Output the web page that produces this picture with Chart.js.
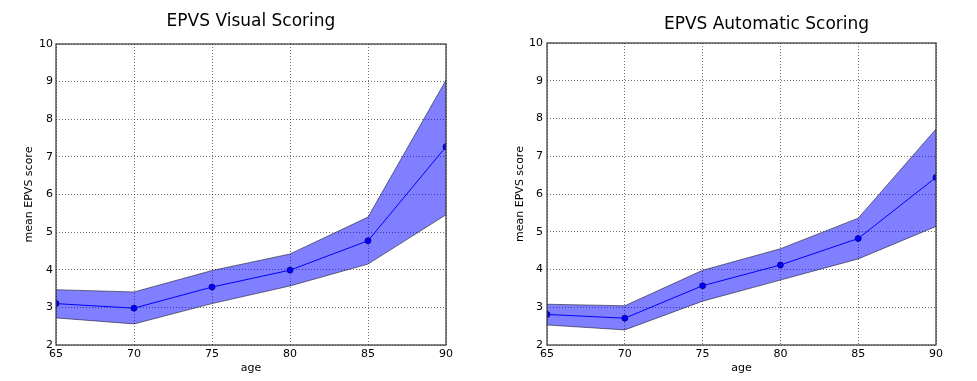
<!DOCTYPE html>
<html><head><meta charset="utf-8">
<script src="https://cdn.jsdelivr.net/npm/chart.js@4/dist/chart.umd.min.js"></script>
<style>
html,body{margin:0;padding:0;background:#fff;overflow:hidden}
#wrap{position:relative;width:977px;height:381px;background:#fff}
.p{position:absolute;top:0;height:381px}
</style></head><body>
<div id="wrap">
<div class="p" style="left:0;width:488px"><canvas id="c1" width="488" height="381"></canvas></div>
<div class="p" style="left:488px;width:489px"><canvas id="c2" width="489" height="381"></canvas></div>
</div>
<script>
// ---- data ----
const ages = [65, 70, 75, 80, 85, 90];
const visualMean  = [3.10, 2.98, 3.54, 3.99, 4.77, 7.27];
const visualUpper = [3.47, 3.41, 3.98, 4.42, 5.40, 9.04];
const visualLower = [2.72, 2.56, 3.10, 3.57, 4.15, 5.46];
const autoMean  = [2.81, 2.71, 3.57, 4.12, 4.82, 6.44];
const autoUpper = [3.08, 3.04, 3.98, 4.55, 5.36, 7.72];
const autoLower = [2.53, 2.40, 3.16, 3.72, 4.28, 5.14];
const yTicks = [2, 3, 4, 5, 6, 7, 8, 9, 10];
const xTicks = [65, 70, 75, 80, 85, 90];
const titles = ['EPVS Visual Scoring', 'EPVS Automatic Scoring'];
const xLabel = 'age';
const yLabel = 'mean EPVS score';

const FONT = '"DejaVu Sans", sans-serif';

const panelTitle = {
  id: 'panelTitle',
  afterDraw(chart, args, opts) {
    const {ctx, chartArea} = chart;
    ctx.save();
    ctx.font = opts.size + 'px ' + FONT;
    ctx.fillStyle = '#000';
    ctx.textAlign = 'center';
    ctx.textBaseline = 'alphabetic';
    ctx.fillText(opts.text, (chartArea.left + chartArea.right) / 2 + opts.dx, opts.baseline);
    ctx.restore();
  }
};
const frame = {
  id: 'frame',
  afterDraw(chart) {
    const {ctx, chartArea: a} = chart;
    ctx.save();
    ctx.strokeStyle = '#333';
    ctx.lineWidth = 1.2;
    ctx.strokeRect(a.left, a.top, a.right - a.left, a.bottom - a.top);
    ctx.restore();
  }
};

function pts(ys) { return ages.map((a, i) => ({x: a, y: ys[i]})); }

function makeChart(id, title, mean, upper, lower, cfg) {
  return new Chart(document.getElementById(id), {
    type: 'line',
    data: {
      datasets: [
        {data: pts(lower), borderColor: 'rgba(0,0,0,0.5)', borderWidth: 1, pointRadius: 0, fill: false, tension: 0, clip: 0},
        {data: pts(upper), borderColor: 'rgba(0,0,0,0.5)', borderWidth: 1, pointRadius: 0, fill: '-1',
         backgroundColor: 'rgba(0,0,255,0.5)', tension: 0, clip: 0},
        {data: pts(mean), borderColor: '#0000ff', borderWidth: 1, pointRadius: 3, pointBackgroundColor: '#0000ff',
         pointBorderColor: '#000', pointBorderWidth: 0.8, fill: false, tension: 0, clip: 0}
      ]
    },
    options: {
      responsive: false,
      animation: false,
      events: [],
      layout: {padding: {left: 0, right: cfg.padR, top: cfg.padT, bottom: 0}},
      plugins: {
        legend: {display: false},
        tooltip: {enabled: false},
        panelTitle: {text: title, dx: cfg.titleDx, baseline: cfg.titleBase, size: 17}
      },
      scales: {
        x: {
          type: 'linear', min: 65, max: 90, z: 1,
          afterBuildTicks: s => { s.ticks = xTicks.map(v => ({value: v})); },
          afterFit: s => { s.height = 36; },
          ticks: {font: {family: FONT, size: 11}, color: '#000', padding: 3, maxRotation: 0},
          grid: {color: 'rgba(0,0,0,0.55)', lineWidth: 1, drawTicks: false},
          border: {display: false, dash: [1, 2]},
          title: {display: true, text: xLabel, font: {family: FONT, size: 11}, color: '#000', padding: {top: 0, bottom: 6}}
        },
        y: {
          type: 'linear', min: 2, max: 10, z: 1,
          afterBuildTicks: s => { s.ticks = yTicks.map(v => ({value: v})); },
          afterFit: s => { s.width = cfg.yW; },
          ticks: {font: {family: FONT, size: 11}, color: '#000', padding: cfg.tickPad},
          grid: {color: 'rgba(0,0,0,0.55)', lineWidth: 1, drawTicks: false},
          border: {display: false, dash: [1, 2]},
          title: {display: true, text: yLabel, font: {family: FONT, size: 11}, color: '#000', padding: {top: cfg.yTitlePad, bottom: 0}}
        }
      }
    },
    plugins: [panelTitle, frame]
  });
}

makeChart('c1', titles[0], visualMean, visualUpper, visualLower,
  {padR: 42, padT: 44, yW: 56, tickPad: 3, yTitlePad: 23, titleDx: 0, titleBase: 26});
makeChart('c2', titles[1], autoMean, autoUpper, autoLower,
  {padR: 41, padT: 43, yW: 59, tickPad: 4, yTitlePad: 26, titleDx: 25, titleBase: 29});
</script>
</body></html>
